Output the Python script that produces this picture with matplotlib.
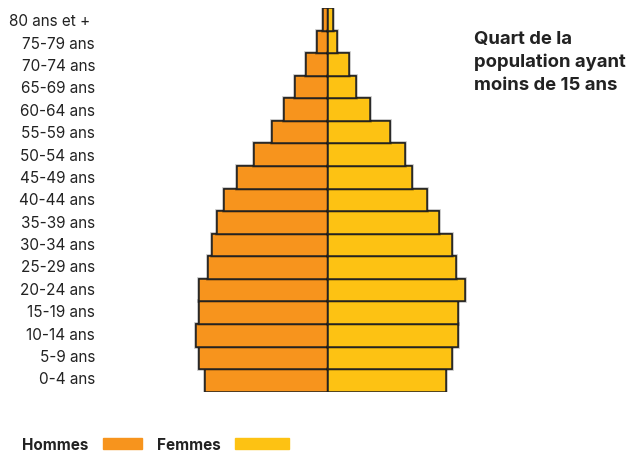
import numpy as np
import matplotlib.pyplot as plt
import matplotlib.patheffects as pe
from matplotlib.patches import Rectangle

plt.rcParams['font.family'] = ['Inter', 'DejaVu Sans']

# Age groups, bottom to top
groupes = ["0-4 ans", "5-9 ans", "10-14 ans", "15-19 ans", "20-24 ans", "25-29 ans",
           "30-34 ans", "35-39 ans", "40-44 ans", "45-49 ans", "50-54 ans", "55-59 ans",
           "60-64 ans", "65-69 ans", "70-74 ans", "75-79 ans", "80 ans et +"]

# Share of population (%)
hommes = [6.13, 6.45, 6.6, 6.45, 6.43, 6.0, 5.8, 5.53, 5.2, 4.53, 3.7, 2.8,
          2.2, 1.65, 1.07, 0.53, 0.25]
femmes = [5.92, 6.22, 6.53, 6.53, 6.85, 6.42, 6.2, 5.55, 4.99, 4.22, 3.85, 3.1,
          2.12, 1.42, 1.05, 0.45, 0.25]

note = ["Quart de la", "population ayant", "moins de 15 ans"]

c_h = "#F7941D"
c_f = "#FDC213"
txt = "#222222"

W, H = 629, 452
fig = plt.figure(figsize=(W / 100, H / 100), dpi=100)
ax = fig.add_axes([180 / W, 1 - 392.7 / H, 295 / W, 383.7 / H])

y = np.arange(len(groupes))
shadow = [pe.withStroke(linewidth=2.6, foreground="#000000", alpha=0.25), pe.Normal()]
bh = ax.barh(y, [-v for v in hommes], height=1.0, color=c_h, edgecolor=txt, linewidth=1.1)
bf = ax.barh(y, femmes, height=1.0, color=c_f, edgecolor=txt, linewidth=1.1)
for b in list(bh) + list(bf):
    b.set_path_effects(shadow)

ax.set_xlim(-7.375, 7.375)
ax.set_ylim(-0.5, len(groupes) - 0.5)
ax.set_xticks([])
ax.set_yticks([])
for s in ax.spines.values():
    s.set_visible(False)

# Age labels, laid out in their own column (slightly tighter than the bars)
for i, g in enumerate(groupes):
    xr = 90 if g.endswith("+") else 95
    base = 378.8 - 22.375 * i + 5.5
    fig.text(xr / W, 1 - base / H, g, ha="right", va="baseline",
             fontsize=11, color=txt)

# Side note
for k, line in enumerate(note):
    fig.text(474 / W, 1 - (44.3 + 22.7 * k) / H, line, fontsize=13.3,
             fontweight="bold", color=txt, va="baseline", ha="left")

# Legend at the bottom
ly = 1 - 450 / H
fig.text(22 / W, ly, "Hommes", fontsize=11, fontweight="bold", color=txt, va="baseline")
fig.text(157 / W, ly, "Femmes", fontsize=11, fontweight="bold", color=txt, va="baseline")
fig.patches.append(Rectangle((103 / W, 1 - 449.7 / H), 39 / W, 10.4 / H,
                             transform=fig.transFigure, color=c_h))
fig.patches.append(Rectangle((235 / W, 1 - 449.7 / H), 54 / W, 10.4 / H,
                             transform=fig.transFigure, color=c_f))

fig.savefig("out.png", dpi=100, facecolor="white")
